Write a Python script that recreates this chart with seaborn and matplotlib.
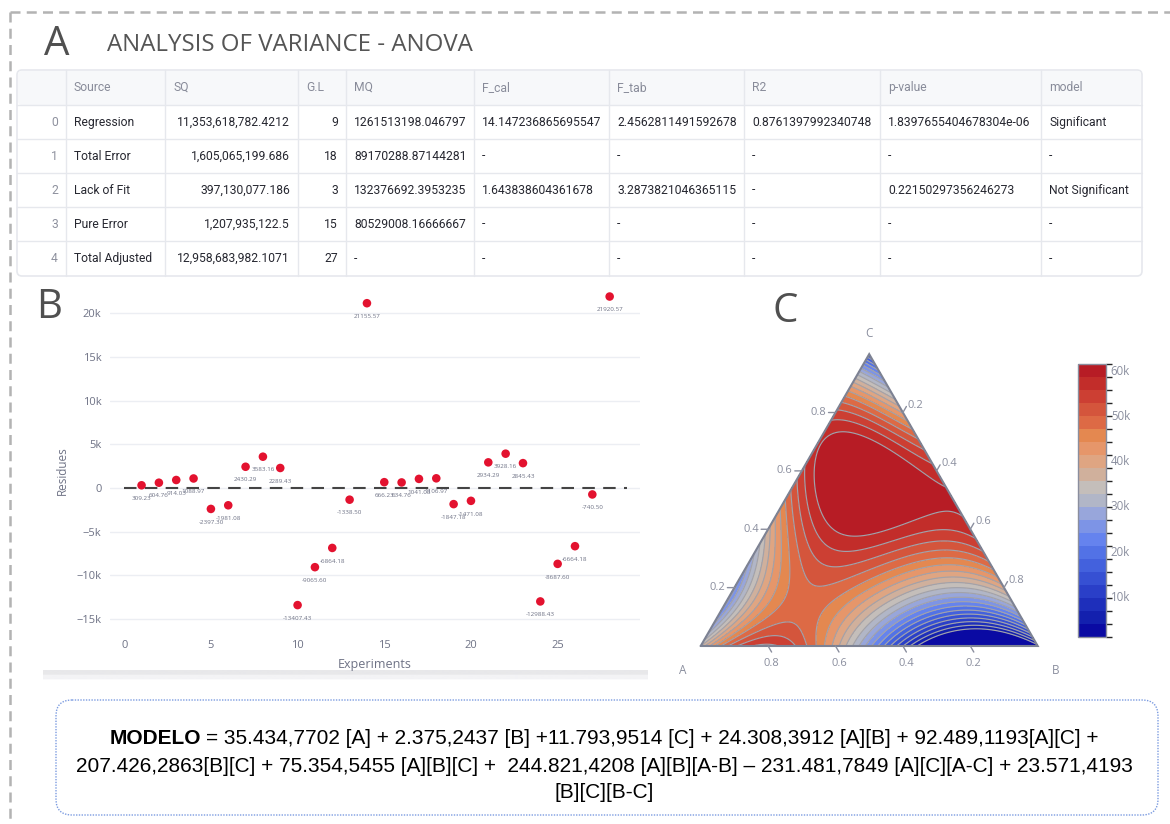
import numpy as np
import pandas as pd
import matplotlib
matplotlib.use("Agg")
import matplotlib.pyplot as plt
import matplotlib.tri as mtri
from matplotlib.colors import ListedColormap, BoundaryNorm
from matplotlib.cm import ScalarMappable
from matplotlib.patches import FancyBboxPatch
import seaborn as sns

# ---------------- Panel A : ANOVA table ----------------
table_header = ["", "Source", "SQ", "G.L", "MQ", "F_cal", "F_tab", "R2", "p-value", "model"]
row_index = ["0", "1", "2", "3", "4"]
source = ["Regression", "Total Error", "Lack of Fit", "Pure Error", "Total Adjusted"]
sq = ["11,353,618,782.4212", "1,605,065,199.686", "397,130,077.186", "1,207,935,122.5", "12,958,683,982.1071"]
gl = ["9", "18", "3", "15", "27"]
mq = ["1261513198.046797", "89170288.87144281", "132376692.3953235", "80529008.16666667", "-"]
f_cal = ["14.147236865695547", "-", "1.643838604361678", "-", "-"]
f_tab = ["2.4562811491592678", "-", "3.2873821046365115", "-", "-"]
r2 = ["0.8761397992340748", "-", "-", "-", "-"]
p_value = ["1.8397655404678304e-06", "-", "0.22150297356246273", "-", "-"]
model_col = ["Significant", "-", "Not Significant", "-", "-"]

# ---------------- Panel B : residues ----------------
experiments = list(range(1, 29))
residues = [309.23, 604.76, 914.03, 1088.97, -2397.30, -1981.08, 2430.29, 3583.16, 2289.43,
            -13407.43, -9065.60, -6864.18, -1338.50, 21155.57, 666.23, 634.76, 1041.08, 1106.97,
            -1847.18, -1471.08, 2934.29, 3928.16, 2845.43, -12988.43, -8687.60, -6664.18, -740.50,
            21920.57]
x_ticks = [0, 5, 10, 15, 20, 25]
y_ticks = [-15000, -10000, -5000, 0, 5000, 10000, 15000, 20000]
y_tick_labels = ["\u221215k", "\u221210k", "\u22125k", "0", "5k", "10k", "15k", "20k"]

# ---------------- Panel C : ternary model ----------------
model_terms = ["A", "B", "C", "AB", "AC", "BC", "ABC", "AB(A-B)", "AC(A-C)", "BC(B-C)"]
model_coefs = [35434.7702, 2375.2437, 11793.9514, 24308.3912, 92489.1193, 207426.2863,
               75354.5455, 244821.4208, -231481.7849, 23571.4193]
band_colors = ['#0a0aa3', '#1320ae', '#1e2fbb', '#2a3fc8', '#3650d3', '#4361dd', '#5272e6',
               '#6583ee', '#7d94e6', '#98a6db', '#b1b6c7', '#c4beba', '#d0b09c', '#dfa582',
               '#e6966a', '#e48850', '#dd6a45', '#d4553c', '#cc3f33', '#c22d2a', '#b71c25']
level_min, level_max = 900, 61300
cbar_ticks = [10000, 20000, 30000, 40000, 50000, 60000]
cbar_labels = ["10k", "20k", "30k", "40k", "50k", "60k"]
ternary_ticks = [0.2, 0.4, 0.6, 0.8]

equation_bold = "MODELO"
equation_lines = [
    "= 35.434,7702 [A] + 2.375,2437 [B] +11.793,9514 [C] + 24.308,3912 [A][B] + 92.489,1193[A][C] +",
    "207.426,2863[B][C] + 75.354,5455 [A][B][C] +  244.821,4208 [A][B][A-B] \u2013 231.481,7849 [A][C][A-C] + 23.571,4193",
    "[B][C][B-C]",
]

# ---------------- figure ----------------
sns.set_theme(style="white")
plt.rcParams['font.family'] = ['Open Sans', 'DejaVu Sans']

W, H = 1170, 824
fig = plt.figure(figsize=(W / 100, H / 100), dpi=100)
fig.patch.set_facecolor("white")


def ax_rect(x0, y0, x1, y1):
    return [x0 / W, 1 - y1 / H, (x1 - x0) / W, (y1 - y0) / H]


bg = fig.add_axes([0, 0, 1, 1], zorder=0)
bg.set_xlim(0, W)
bg.set_ylim(H, 0)
bg.axis('off')

# dashed frame
bg.plot([10, 10], [12, H], color='#b3b3b3', lw=1.8, ls=(0, (4, 2.5)))
bg.plot([10, W], [12, 12], color='#b3b3b3', lw=1.8, ls=(0, (4, 2.5)))

letter_kw = dict(fontsize=29, color='#505050', va='center', ha='center',
                 family=['Open Sans', 'DejaVu Sans'])
bg.text(57, 45, "A", **letter_kw)
bg.text(49, 308, "B", **letter_kw)
bg.text(785, 312, "C", **letter_kw)
bg.text(107, 45, "ANALYSIS OF VARIANCE - ANOVA", fontsize=17.3, color='#555555',
        va='center', ha='left')

# ---- table ----
col_edges = [17, 66, 165, 298, 346, 474, 609, 744, 880, 1041, 1142]
row_edges = [70, 105, 139, 173, 207, 241, 276]
grid_c = '#e6e8ed'
bg.add_patch(FancyBboxPatch((col_edges[0], row_edges[0]), col_edges[-1] - col_edges[0],
                            row_edges[-1] - row_edges[0],
                            boxstyle="round,pad=0,rounding_size=5",
                            fc='white', ec=grid_c, lw=1.2, zorder=1))
bg.add_patch(FancyBboxPatch((col_edges[0] + 1, row_edges[0] + 1), col_edges[-1] - col_edges[0] - 2,
                            row_edges[1] - row_edges[0] - 1,
                            boxstyle="round,pad=0,rounding_size=4",
                            fc='#f7f8fa', ec='none', zorder=1.1))
for xe in col_edges[1:-1]:
    bg.plot([xe, xe], [row_edges[0], row_edges[-1]], color=grid_c, lw=1, zorder=2)
for ye in row_edges[1:-1]:
    bg.plot([col_edges[0], col_edges[-1]], [ye, ye], color=grid_c, lw=1, zorder=2)

tfont = ['Roboto', 'DejaVu Sans']
tsize = 8.7
for ci, name in enumerate(table_header):
    if name:
        bg.text(col_edges[ci] + 8, (row_edges[0] + row_edges[1]) / 2, name, fontsize=tsize,
                color='#888b99', va='center', ha='left', family=tfont, zorder=3)

columns = [row_index, source, sq, gl, mq, f_cal, f_tab, r2, p_value, model_col]
right_aligned = {0, 2, 3}
for ci, col in enumerate(columns):
    for ri, val in enumerate(col):
        yc = (row_edges[ri + 1] + row_edges[ri + 2]) / 2
        color = '#8e919e' if ci == 0 else '#262730'
        if ci in right_aligned:
            bg.text(col_edges[ci + 1] - 8, yc, val, fontsize=tsize, color=color, va='center',
                    ha='right', family=tfont, zorder=3)
        else:
            bg.text(col_edges[ci] + 8, yc, val, fontsize=tsize, color=color, va='center',
                    ha='left', family=tfont, zorder=3)

# ---- panel B shadow ----
grad = np.linspace(0, 1, 30).reshape(-1, 1)
bg.imshow(grad, extent=(43, 648, 670, 684), cmap=ListedColormap(['#ffffff', '#f3f3f5', '#e8e8ea']),
          aspect='auto', zorder=0.5)

# ---------------- Panel B ----------------
axb = fig.add_axes(ax_rect(110, 288, 640, 632), zorder=2)
df_res = pd.DataFrame({"Experiments": experiments, "Residues": residues})
axb.yaxis.grid(True, color='#eceef3', lw=1)
axb.set_axisbelow(True)
axb.hlines(0, 0, max(experiments) + 1, colors='#444444', linestyles=(0, (6, 4)), lw=1.5, zorder=2)
sns.scatterplot(data=df_res, x="Experiments", y="Residues", color='#e3122f', s=38,
                edgecolor='none', ax=axb, zorder=3)
for xv, yv in zip(experiments, residues):
    axb.annotate(f"{yv:.2f}", (xv, yv), xytext=(0, -9.5), textcoords='offset points',
                 ha='center', va='center', fontsize=4.5, color='#6e7285', zorder=4)
axb.set_xlim(-0.82, 29.75)
axb.set_ylim(-16488, 22897)
axb.set_xticks(x_ticks)
axb.set_yticks(y_ticks, labels=y_tick_labels)
for s in axb.spines.values():
    s.set_visible(False)
axb.tick_params(axis='both', length=0, labelsize=8, labelcolor='#6e7285')
axb.tick_params(axis='y', pad=6)
axb.tick_params(axis='x', pad=6)
axb.set_xlabel("Experiments", fontsize=9, color='#6e7285')
axb.set_ylabel("Residues", fontsize=8.5, color='#6e7285')
axb.xaxis.set_label_coords(0.5, -0.075)
axb.yaxis.set_label_coords(-0.078, 0.47)
axb.patch.set_alpha(0)

# ---------------- Panel C ----------------
s3 = np.sqrt(3) / 2
SIDE = 337.0
ox, oy = 700.7, 646.0
px0, py0, px1, py1 = 672, 318, 1068, 690
axc = fig.add_axes(ax_rect(px0, py0, px1, py1), zorder=2)
axc.set_xlim((px0 - ox) / SIDE, (px1 - ox) / SIDE)
axc.set_ylim((oy - py1) / SIDE, (oy - py0) / SIDE)
axc.axis('off')

n = 180
ii, jj = np.meshgrid(np.arange(n + 1), np.arange(n + 1))
mask = ii + jj <= n
Av = ii[mask] / n
Bv = jj[mask] / n
Cv = np.clip(1 - Av - Bv, 0, 1)
term_values = {
    "A": Av, "B": Bv, "C": Cv,
    "AB": Av * Bv, "AC": Av * Cv, "BC": Bv * Cv, "ABC": Av * Bv * Cv,
    "AB(A-B)": Av * Bv * (Av - Bv), "AC(A-C)": Av * Cv * (Av - Cv), "BC(B-C)": Bv * Cv * (Bv - Cv),
}
Z = np.zeros_like(Av)
for t, c in zip(model_terms, model_coefs):
    Z = Z + c * term_values[t]
Xc = Bv + Cv / 2
Yc = Cv * s3
tri = mtri.Triangulation(Xc, Yc)
levels = np.linspace(level_min, level_max, len(band_colors) + 1)
cmap = ListedColormap(band_colors)
cmap.set_under(band_colors[0])
cmap.set_over(band_colors[-1])
axc.tricontourf(tri, Z, levels=levels, cmap=cmap, extend='both')
axc.tricontour(tri, Z, levels=levels[1:-1], colors='#a2a2aa', linewidths=0.85)
axc.plot([0, 1, 0.5, 0], [0, 0, s3, 0], color='#7d8293', lw=1.5, solid_joinstyle='miter')

tick_c = '#8a8e9e'
tl = 7 * 0.72
for v in ternary_ticks:
    # left edge : C
    p = (v / 2, v * s3)
    axc.annotate("", xy=p, xytext=(-tl, 0), textcoords='offset points',
                 arrowprops=dict(arrowstyle='-', color=tick_c, lw=1, shrinkA=0, shrinkB=0))
    axc.annotate(f"{v:.1f}", p, xytext=(-tl - 1.5, 0), textcoords='offset points',
                 ha='right', va='center', fontsize=8, color=tick_c)
    # right edge : B
    p = (v + (1 - v) / 2, (1 - v) * s3)
    axc.annotate("", xy=p, xytext=(tl * 0.5, tl * 0.866), textcoords='offset points',
                 arrowprops=dict(arrowstyle='-', color=tick_c, lw=1, shrinkA=0, shrinkB=0))
    axc.annotate(f"{v:.1f}", p, xytext=(tl * 0.5 + 1, tl * 0.866 + 1), textcoords='offset points',
                 ha='left', va='center', fontsize=8, color=tick_c)
    # bottom edge : A
    p = (1 - v, 0)
    axc.annotate("", xy=p, xytext=(tl * 0.5, -tl * 0.866), textcoords='offset points',
                 arrowprops=dict(arrowstyle='-', color=tick_c, lw=1, shrinkA=0, shrinkB=0))
    axc.annotate(f"{v:.1f}", p, xytext=(tl * 0.5, -tl * 0.866 - 8), textcoords='offset points',
                 ha='center', va='center', fontsize=8, color=tick_c)

axc.annotate("C", (0.5, s3), xytext=(0, 15), textcoords='offset points', ha='center',
             va='center', fontsize=8.5, color=tick_c)
axc.annotate("A", (0, 0), xytext=(-13, -18), textcoords='offset points', ha='center',
             va='center', fontsize=8.5, color=tick_c)
axc.annotate("B", (1, 0), xytext=(13, -18), textcoords='offset points', ha='center',
             va='center', fontsize=8.5, color=tick_c)

cax = fig.add_axes(ax_rect(1078, 364, 1106, 637), zorder=2)
sm = ScalarMappable(norm=BoundaryNorm(levels, len(band_colors)), cmap=ListedColormap(band_colors))
cb = fig.colorbar(sm, cax=cax, spacing='proportional')
cb.set_ticks(cbar_ticks, labels=cbar_labels)
cax.tick_params(length=0, labelsize=8.3, labelcolor=tick_c, pad=3.5)
cb.outline.set_edgecolor('#8a8e9e')
cb.outline.set_linewidth(1)

# ---------------- equation box ----------------
bg.add_patch(FancyBboxPatch((56, 700), 1158 - 56, 815 - 700,
                            boxstyle="round,pad=0,rounding_size=16",
                            fc='white', ec='#7b9be0', lw=1.0, ls=(0, (1, 1)), zorder=1))
efont = ['Liberation Sans', 'DejaVu Sans']
esize = 15.0
fig.canvas.draw()
r = fig.canvas.get_renderer()
t_b = bg.text(0, 739, equation_bold, fontsize=esize, fontweight='bold', family=efont,
              va='center', ha='left', color='black')
t_r = bg.text(0, 739, equation_lines[0], fontsize=esize, family=efont, va='center',
              ha='left', color='black')
wb = t_b.get_window_extent(r).width
wr = t_r.get_window_extent(r).width
gap = 5
xc = 604
x_start = xc - (wb + gap + wr) / 2
t_b.set_x(x_start)
t_r.set_x(x_start + wb + gap)
bg.text(xc, 766, equation_lines[1], fontsize=esize, family=efont, va='center', ha='center',
        color='black')
bg.text(xc, 793, equation_lines[2], fontsize=esize, family=efont, va='center', ha='center',
        color='black')

fig.savefig("out.png", dpi=100, facecolor='white')
